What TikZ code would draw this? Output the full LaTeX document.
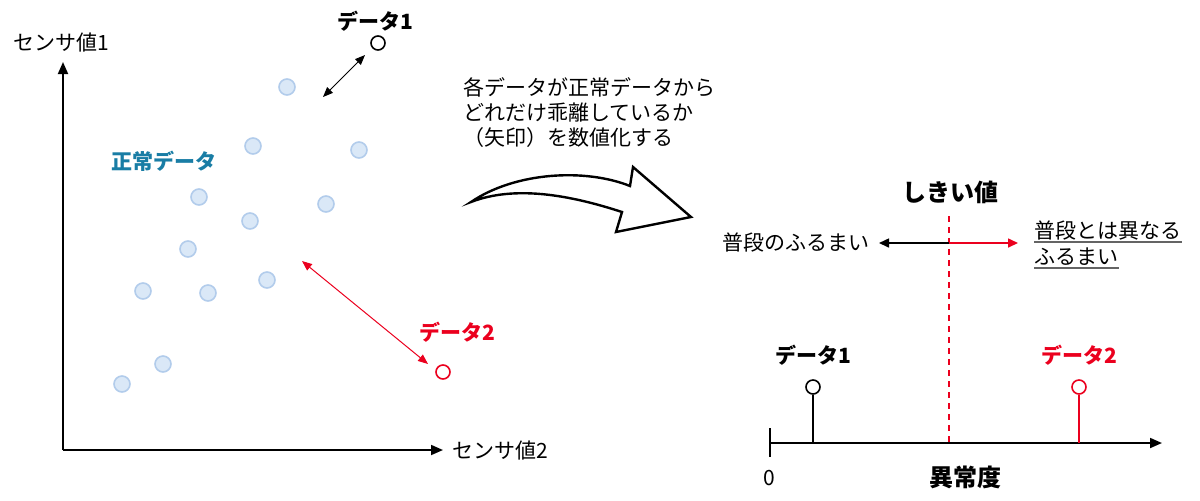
\documentclass[tikz,border=0pt]{standalone}
\usepackage{fontspec}
\setmainfont{Noto Sans CJK JP}
\usetikzlibrary{arrows.meta}
\definecolor{teal1}{RGB}{25,125,165}
\definecolor{red1}{RGB}{235,0,30}
\definecolor{dotfill}{RGB}{218,232,247}
\definecolor{dotdraw}{RGB}{178,204,235}
\definecolor{ulgray}{RGB}{100,100,100}
\begin{document}
\begin{tikzpicture}[x=0.5pt,y=-0.5pt,
  txt/.style={inner sep=0, font=\fontsize{10.5}{12.5}\selectfont},
  boldtxt/.style={inner sep=0, font=\fontsize{10.5}{12.5}\selectfont\bfseries},
  bigbold/.style={inner sep=0, font=\fontsize{12}{14}\selectfont\bfseries},
  dot/.style={circle, minimum size=8pt, inner sep=0, fill=dotfill, draw=dotdraw, line width=0.8pt},
  pt/.style={circle, minimum size=7pt, inner sep=0, draw, line width=0.8pt, fill=white},
  axis/.style={line width=0.9pt, -{Triangle[length=6pt,width=5pt]}},
  darrow/.style={line width=0.5pt, {Triangle[length=5pt,width=4pt]}-{Triangle[length=5pt,width=4pt]}},
  sarrow/.style={line width=0.8pt, -{Triangle[length=5pt,width=4.5pt]}},
  uline/.style={ulgray, line width=0.9pt},
]
\useasboundingbox (0,0) rectangle (1200,500);

% ---- left scatter plot ----
\coordinate (o) at (63,450);
\coordinate (ytop) at (63,62);
\coordinate (xend) at (443,450);
\draw[axis] (o) -- (ytop);
\draw[axis] (o) -- (xend);
\node[txt, anchor=west] (s1) at (13,43) {センサ値1};
\node[txt, anchor=west] (s2) at (452,450) {センサ値2};

\node[dot] (d1) at (287,87) {};
\node[dot] (d2) at (253,146) {};
\node[dot] (d3) at (359,150) {};
\node[dot] (d4) at (199,197) {};
\node[dot] (d5) at (326,204) {};
\node[dot] (d6) at (250,221) {};
\node[dot] (d7) at (188,249) {};
\node[dot] (d8) at (267,280) {};
\node[dot] (d9) at (143,291) {};
\node[dot] (d10) at (208,293) {};
\node[dot] (d11) at (163,364) {};
\node[dot] (d12) at (122,384) {};

\node[boldtxt, text=teal1] (normal) at (164,161) {正常データ};

\node[pt] (p1) at (378,43) {};
\node[boldtxt] (l1) at (375,21) {データ1};
\coordinate (a1) at (323,97);
\coordinate (a2) at (365,55);
\draw[darrow] (a1) -- (a2);

\node[pt, draw=red1] (p2) at (443,372) {};
\node[boldtxt, text=red1] (l2) at (457,332) {データ2};
\coordinate (b1) at (302,261);
\coordinate (b2) at (428,364);
\draw[darrow, red1] (b1) -- (b2);

% ---- middle ----
\node[txt, anchor=west, align=left] (expl) at (463,113) {各データが正常データから\\どれだけ乖離しているか\\（矢印）を数値化する};

\draw[line width=1.2pt, fill=white, line join=miter]
  (471,202) .. controls (515,172) and (585,168) .. (630,186)
  -- (633,167) -- (691,217) -- (616,232) -- (622,212)
  .. controls (570,195) and (515,185) .. (471,202) -- cycle;

% ---- right ----
\node[bigbold] (thr) at (950,192) {しきい値};
\coordinate (th) at (949,216);
\coordinate (tb) at (949,443);
\draw[red1, line width=0.8pt, dash pattern=on 3pt off 2.5pt] (th) -- (tb);

\coordinate (m) at (949,243);
\coordinate (ml) at (879,243);
\coordinate (mr) at (1018,243);
\draw[sarrow] (m) -- (ml);
\draw[sarrow, red1] (m) -- (mr);
\node[txt, anchor=west] (norm) at (722,243) {普段のふるまい};
\node[txt, anchor=west] (r1) at (1034,231) {普段とは異なる};
\node[txt, anchor=west] (r2) at (1034,257) {ふるまい};
\draw[uline] ([yshift=-1.4pt]r1.base west) -- ([yshift=-1.4pt]r1.base east);
\draw[uline] ([yshift=-1.4pt]r2.base west) -- ([yshift=-1.4pt]r2.base east);

\coordinate (z) at (770,443);
\coordinate (zend) at (1162,443);
\coordinate (tk1) at (770,428);
\coordinate (tk2) at (770,457);
\draw[axis] (z) -- (zend);
\draw[line width=0.9pt] (tk1) -- (tk2);
\node[txt] (zero) at (769,478) {0};
\node[bigbold] (anom) at (965,477) {異常度};

\coordinate (s3) at (813,443);
\coordinate (s4) at (1079,443);
\node[pt] (p3) at (813,387) {};
\node[pt, draw=red1] (p4) at (1079,387) {};
\draw[line width=0.8pt] (s3) -- (p3);
\draw[line width=0.8pt, red1] (s4) -- (p4);
\node[boldtxt] (l3) at (813,355) {データ1};
\node[boldtxt, text=red1] (l4) at (1079,355) {データ2};
\end{tikzpicture}
\end{document}
